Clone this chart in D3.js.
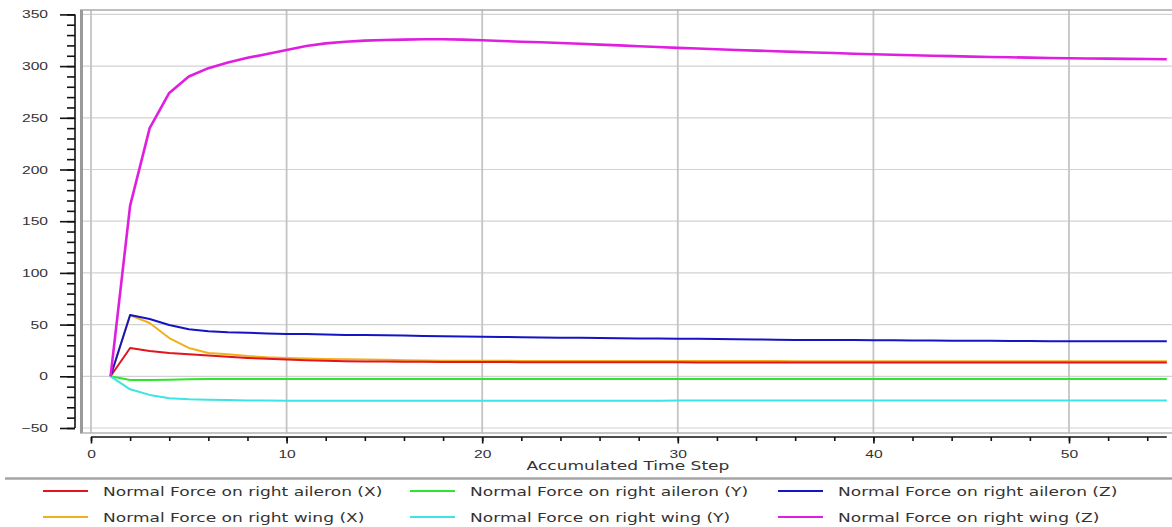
<!DOCTYPE html>
<html>
<head>
<meta charset="utf-8">
<script src="https://cdn.jsdelivr.net/npm/d3@7"></script>
<style>
  body { margin: 0; background: #fff; }
  svg { display: block; font-family: "DejaVu Sans", Verdana, sans-serif; }
</style>
</head>
<body>
<svg id="canvas" width="1172" height="527"></svg>
<script>
// time steps 1..55
var steps = d3.range(1, 56);

// series values (one value per time step)
var aileronX = [0, 27.4, 24.5, 22.5, 21.4, 20, 18.8, 17.8, 17, 16.3, 15.6, 15, 14.6, 14.4, 14.2, 14.1, 14, 13.9, 13.9, 13.8,
  13.8, 13.7, 13.7, 13.6, 13.6, 13.6, 13.5, 13.5, 13.5, 13.5, 13.4, 13.4, 13.4, 13.4, 13.4, 13.4, 13.3, 13.3, 13.3, 13.3,
  13.3, 13.3, 13.3, 13.3, 13.3, 13.3, 13.3, 13.3, 13.3, 13.3, 13.3, 13.3, 13.3, 13.3, 13.3];
var aileronY = [0, -3.6, -3.6, -3.4, -2.8, -2.6, -2.6, -2.6, -2.6, -2.6, -2.6, -2.6, -2.6, -2.6, -2.6, -2.6, -2.6, -2.6, -2.6, -2.6,
  -2.6, -2.6, -2.6, -2.6, -2.6, -2.6, -2.6, -2.6, -2.6, -2.6, -2.6, -2.6, -2.6, -2.6, -2.6, -2.6, -2.6, -2.6, -2.6, -2.6,
  -2.6, -2.6, -2.6, -2.6, -2.6, -2.6, -2.6, -2.6, -2.6, -2.6, -2.6, -2.6, -2.6, -2.6, -2.6];
var aileronZ = [0, 59.3, 55.4, 49.6, 45.5, 43.5, 42.5, 42, 41.5, 41, 41, 40.5, 40, 40, 39.7, 39.5, 39, 38.7, 38.5, 38.2,
  38, 37.8, 37.5, 37.3, 37.2, 37, 36.8, 36.6, 36.5, 36.4, 36.2, 36, 35.8, 35.6, 35.4, 35.2, 35.1, 35, 35, 34.9,
  34.8, 34.7, 34.6, 34.5, 34.4, 34.3, 34.2, 34.1, 34, 34, 33.9, 33.9, 33.8, 33.8, 33.8];
var wingX = [0, 59, 51.5, 37, 27.4, 22.5, 21.3, 19.6, 18.4, 17.8, 17.3, 16.8, 16.4, 16.2, 16, 15.6, 15.3, 15.1, 15, 15,
  15, 14.9, 14.9, 14.9, 14.8, 14.8, 14.8, 14.8, 14.7, 14.7, 14.7, 14.7, 14.7, 14.7, 14.7, 14.6, 14.6, 14.6, 14.6, 14.6,
  14.6, 14.6, 14.6, 14.6, 14.6, 14.6, 14.6, 14.6, 14.6, 14.6, 14.6, 14.6, 14.6, 14.6, 14.6];
var wingY = [0, -12.6, -18, -21.3, -22.3, -22.7, -23, -23.3, -23.5, -23.7, -23.7, -23.7, -23.7, -23.7, -23.7, -23.7, -23.7, -23.7, -23.7, -23.7,
  -23.7, -23.7, -23.7, -23.7, -23.7, -23.7, -23.7, -23.7, -23.7, -23.3, -23.3, -23.3, -23.3, -23.3, -23.3, -23.3, -23.3, -23.3, -23.3, -23.3,
  -23.3, -23.3, -23.3, -23.3, -23.3, -23.3, -23.3, -23.3, -23.3, -23.3, -23.3, -23.3, -23.3, -23.3, -23.3];
var wingZ = [0, 165, 240, 274, 290, 298, 303.5, 308, 311.7, 315.5, 319.5, 322, 323.6, 324.6, 325.2, 325.6, 325.9, 326, 325.6, 325,
  324.3, 323.6, 323, 322.4, 321.6, 320.8, 320, 319.2, 318.4, 317.6, 317, 316.3, 315.6, 315, 314.3, 313.8, 313.2, 312.6, 312, 311.4,
  311, 310.5, 310, 309.6, 309.2, 308.8, 308.5, 308.2, 307.9, 307.6, 307.4, 307.2, 307, 306.8, 306.6];

var names = ["Normal Force on right aileron (X)", "Normal Force on right aileron (Y)", "Normal Force on right aileron (Z)",
  "Normal Force on right wing (X)", "Normal Force on right wing (Y)", "Normal Force on right wing (Z)"];
var seriesValues = [aileronX, aileronY, aileronZ, wingX, wingY, wingZ];

var xTicks = [0, 10, 20, 30, 40, 50];
var yTicks = [-50, 0, 50, 100, 150, 200, 250, 300, 350];

// look
var colors = ["#e2141c", "#2ee42e", "#1414c4", "#f0b01e", "#3ce4e4", "#e01ee0"];
var drawOrder = [3, 0, 1, 2, 4, 5];
var stretch = 1.42; // the glyphs in the picture are wide

var svg = d3.select("#canvas");

var x = d3.scaleLinear().domain([0, 55]).range([91, 1166.8]);
var y = d3.scaleLinear().domain([-50, 350]).range([428, 14.4]);

function widen(sel) {
  sel.each(function() {
    var w = this.getComputedTextLength();
    d3.select(this).attr("textLength", w * stretch).attr("lengthAdjust", "spacingAndGlyphs");
  });
}

// plot frame and grid
var frame = svg.append("g");
frame.selectAll("line.hgrid").data(yTicks).enter().append("line")
  .attr("x1", 83).attr("x2", 1172)
  .attr("y1", function(d) { return y(d) }).attr("y2", function(d) { return y(d) })
  .attr("stroke", "#d2d2d2").attr("stroke-width", 1.2);
frame.selectAll("line.vgrid").data(xTicks).enter().append("line")
  .attr("x1", function(d) { return x(d) }).attr("x2", function(d) { return x(d) })
  .attr("y1", 10).attr("y2", 433)
  .attr("stroke", "#c4c4c4").attr("stroke-width", 1.8);
frame.append("line").attr("x1", 80).attr("x2", 1172).attr("y1", 10).attr("y2", 10)
  .attr("stroke", "#aaaaaa").attr("stroke-width", 1.5);
frame.append("line").attr("x1", 80).attr("x2", 1172).attr("y1", 433).attr("y2", 433)
  .attr("stroke", "#b4b4b4").attr("stroke-width", 1.5);
frame.append("line").attr("x1", 81.5).attr("x2", 81.5).attr("y1", 10).attr("y2", 433)
  .attr("stroke", "#9a9a9a").attr("stroke-width", 3);

// y axis
var yMinor = svg.append("g").attr("transform", "translate(75,0)")
  .call(d3.axisLeft(y).tickValues(d3.range(-50, 351, 10)).tickSize(8).tickFormat(""));
var yMajor = svg.append("g").attr("transform", "translate(75,0)")
  .call(d3.axisLeft(y).tickValues(yTicks).tickSize(15).tickPadding(12));
yMajor.selectAll("text").attr("font-size", 11).attr("fill", "#333").call(widen);

// x axis
var xMinor = svg.append("g").attr("transform", "translate(0,437)")
  .call(d3.axisBottom(x).tickValues(d3.range(0, 55, 2)).tickSize(4).tickFormat(""));
var xMajor = svg.append("g").attr("transform", "translate(0,437)")
  .call(d3.axisBottom(x).tickValues(xTicks).tickSize(6.5).tickPadding(6.5));
xMajor.selectAll("text").attr("font-size", 11).attr("fill", "#333").call(widen);

svg.selectAll(".domain").attr("stroke", "#111").attr("stroke-width", 1.6);
svg.selectAll(".tick line").attr("stroke", "#111").attr("stroke-width", 1.6);
yMinor.select(".domain").remove();
xMinor.select(".domain").remove();
yMajor.select(".domain").attr("d", "M0," + y(-50) + "V" + y(350));
xMajor.select(".domain").attr("d", "M" + x(0) + ",0H" + x(55));

svg.append("text").attr("x", 628).attr("y", 470).attr("text-anchor", "middle")
  .attr("font-size", 12).attr("fill", "#333").text("Accumulated Time Step").call(widen);

// series lines
var line = d3.line()
  .x(function(d, i) { return x(steps[i]) })
  .y(function(d) { return y(d) });

drawOrder.forEach(function(k) {
  svg.append("path")
    .attr("d", line(seriesValues[k]))
    .attr("fill", "none")
    .attr("stroke", colors[k])
    .attr("stroke-width", k == 5 ? 2.6 : 2)
    .attr("stroke-linejoin", "round");
});

// legend
svg.append("line").attr("x1", 5).attr("x2", 1172).attr("y1", 478.5).attr("y2", 478.5)
  .attr("stroke", "#a4a4a4").attr("stroke-width", 2.5);

var colX = [43, 410, 778];
var rowY = [491, 517];
names.forEach(function(name, i) {
  var cx = colX[i % 3], cy = rowY[Math.floor(i / 3)];
  svg.append("line").attr("x1", cx).attr("x2", cx + 45).attr("y1", cy).attr("y2", cy)
    .attr("stroke", colors[i]).attr("stroke-width", 2);
  svg.append("text").attr("x", cx + 60).attr("y", cy + 4.5)
    .attr("font-size", 12).attr("fill", "#333").text(name).call(widen);
});
</script>
</body>
</html>
